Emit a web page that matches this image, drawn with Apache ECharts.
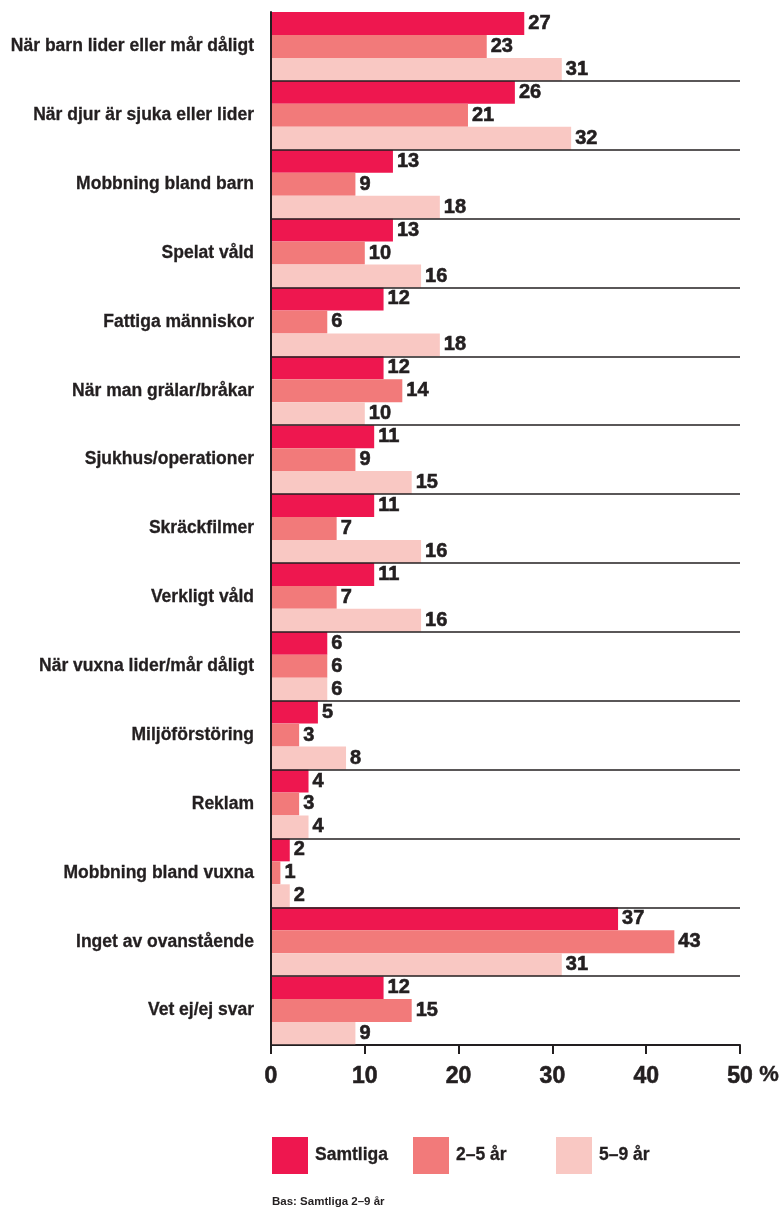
<!DOCTYPE html>
<html>
<head>
<meta charset="utf-8">
<script src="https://cdn.jsdelivr.net/npm/echarts@6/dist/echarts.min.js"></script>
<style>
  html, body { margin: 0; padding: 0; background: #fff; }
  #chart { width: 781px; height: 1209px; }
</style>
</head>
<body>
<div id="chart"></div>
<script>
var categories = [
  'När barn lider eller mår dåligt',
  'När djur är sjuka eller lider',
  'Mobbning bland barn',
  'Spelat våld',
  'Fattiga människor',
  'När man grälar/bråkar',
  'Sjukhus/operationer',
  'Skräckfilmer',
  'Verkligt våld',
  'När vuxna lider/mår dåligt',
  'Miljöförstöring',
  'Reklam',
  'Mobbning bland vuxna',
  'Inget av ovanstående',
  'Vet ej/ej svar'
];
var seriesNames = ['Samtliga', '2–5 år', '5–9 år'];
var samtliga = [27, 26, 13, 13, 12, 12, 11, 11, 11, 6, 5, 4, 2, 37, 12];
var age2to5  = [23, 21, 9, 10, 6, 14, 9, 7, 7, 6, 3, 3, 1, 43, 15];
var age5to9  = [31, 32, 18, 16, 18, 10, 15, 16, 16, 6, 8, 4, 2, 31, 9];
var xTicks = [0, 10, 20, 30, 40, 50];
var footnote = 'Bas: Samtliga 2–9 år';

var ink = '#231f20';
var colors = ['#ee174f', '#f27a7a', '#f9c8c3'];
var font = '"Liberation Sans", Arial, sans-serif';

var myChart = echarts.init(document.getElementById('chart'));

function barSeries(name, data, color) {
  return {
    name: name,
    type: 'bar',
    data: data,
    barGap: '0%',
    barCategoryGap: '0%',
    itemStyle: { color: color },
    label: {
      show: true,
      position: 'right',
      distance: 4,
      color: ink,
      fontFamily: font,
      fontWeight: 'bold',
      fontSize: 20,
      textBorderColor: ink,
      textBorderWidth: 0.6
    }
  };
}

var legendLefts = [272, 413, 556];

var option = {
  backgroundColor: '#fff',
  animation: false,
  color: colors,
  title: {
    text: footnote,
    left: 272,
    top: 1196,
    padding: 0,
    textStyle: { color: ink, fontFamily: font, fontWeight: 'bold', fontSize: 11.5 }
  },
  legend: seriesNames.map(function (n, i) {
    return {
      data: [n],
      left: legendLefts[i],
      top: 1137,
      padding: 0,
      icon: 'rect',
      itemWidth: 36,
      itemHeight: 37,
      textStyle: {
        color: ink, fontFamily: font, fontWeight: 'bold', fontSize: 17.5,
        textBorderColor: ink, textBorderWidth: 0.3, padding: [0, 0, 0, 2]
      }
    };
  }),
  grid: { left: 271, right: 41, top: 12, bottom: 164, containLabel: false },
  xAxis: {
    type: 'value',
    min: 0,
    max: 50,
    interval: 10,
    axisLine: { show: true, lineStyle: { color: ink, width: 2 } },
    axisTick: { show: true, length: 9, lineStyle: { color: ink, width: 2 } },
    splitLine: { show: false },
    axisLabel: {
      color: ink,
      fontFamily: font,
      fontWeight: 'bold',
      fontSize: 23,
      margin: 20,
      textBorderColor: ink,
      textBorderWidth: 0.6,
      formatter: function (v) { return xTicks.indexOf(v) >= 0 ? String(v) : ''; }
    }
  },
  yAxis: {
    type: 'category',
    data: categories,
    inverse: true,
    z: 10,
    axisLine: { show: true, lineStyle: { color: ink, width: 2 } },
    axisTick: { show: false },
    splitLine: {
      show: true,
      interval: function (i) { return i !== 0; },
      lineStyle: { color: ink, width: 1.5 }
    },
    axisLabel: {
      color: ink,
      fontFamily: font,
      fontWeight: 'bold',
      fontSize: 17.5,
      margin: 17,
      textBorderColor: ink,
      textBorderWidth: 0.3
    }
  },
  graphic: [{
    type: 'text',
    left: 759,
    top: 1064,
    style: { text: '%', fill: ink, font: 'bold 22px ' + font, stroke: ink, lineWidth: 0.4 }
  }],
  series: [
    barSeries(seriesNames[0], samtliga, colors[0]),
    barSeries(seriesNames[1], age2to5, colors[1]),
    barSeries(seriesNames[2], age5to9, colors[2])
  ]
};

myChart.setOption(option);
</script>
</body>
</html>
